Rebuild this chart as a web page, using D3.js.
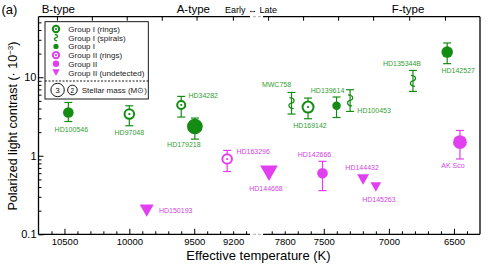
<!DOCTYPE html>
<html>
<head>
<meta charset="utf-8">
<script src="https://cdn.jsdelivr.net/npm/d3@7/dist/d3.min.js"></script>
<style>
  body { margin: 0; background: #fff; }
  text { font-family: "Liberation Sans", Arial, Helvetica, sans-serif; }
</style>
</head>
<body>
<div id="chart"></div>
<script>
// ---- data ----
var stars    = ["HD100546","HD97048","HD34282","HD179218","HD163296","HD150193","HD144668","HD142666",
                "HD144432","HD145263","AK Sco","HD142527","HD135344B","MWC758","HD169142","HD139614","HD100453"];
var kinds    = ["I","Irings","Irings","I","IIrings","IIundet","IIundet","II",
                "IIundet","IIundet","II","I","Ispirals","Ispirals","Irings","I","Ispirals"];
var teff     = [10470, 10000, 9600, 9495, 9246, 9866, 7921, 7510, 7198, 7100, 6454, 6552, 6815, 7748, 7621, 7402, 7298];
var contrast = [3.56, 3.4, 4.43, 2.36, 0.91, 0.2, 0.6, 0.6, 0.5, 0.4, 1.49, 20.9, 9.0, 4.69, 4.17, 4.33, 5.06];
var errLow   = [2.73, 2.41, 3.11, 1.63, 0.63, null, null, 0.36, null, null, 0.91, 14.9, 6.6, 3.4, 2.96, 3.07, 3.67];
var errHigh  = [4.77, 4.33, 5.7, 3.02, 1.17, null, null, 0.85, null, null, 2.1, 27.3, 12.2, 6.4, 5.43, 5.6, 6.93];
var mass     = [2.26, 2.0, 1.6, 3.6, 2.0, 2.3, 3.05, 2.26, 1.9, 1.63, 3.1, 2.5, 2.0, 2.0, 2.37, 1.7, 2.0];

// label offsets from the marker (layout only)
var labelDx = [3, 0, 22, -11, 26, 29, -3, -8, -1, 3, -7, 11, -11, -15, 2, -9, 24];
var labelDy = [19.5, 21, -7, 21, -5, 2.5, 18, -16, -9.5, 15, 26, 21, -15, -16, 21, -13, 12.5];

var legendLabels = ["Group I (rings)","Group I (spirals)","Group I","Group II (rings)","Group II","Group II (undetected)"];
var legendKinds  = ["Irings","Ispirals","I","IIrings","II","IIundet"];

var xMinor      = d3.range(10600, 9050, -100).concat(d3.range(7900, 6300, -100));
var xMajor      = [10500, 10000, 9500, 7500, 7000, 6500];
var xLabelled   = [10500, 10000, 9500, 9200, 7800, 7500, 7000, 6500];
var topTicks    = [10558, 10289, 10020, 9750, 9482, 9202, 7928, 7659, 7390, 7121, 6844, 6569];
var yMajor      = [0.1, 1, 10];
var yMinor      = [0.2,0.3,0.4,0.5,0.6,0.7,0.8,0.9,2,3,4,5,6,7,8,9,20,30,40,50];
var typeLabels  = ["B-type","A-type","Early \u2194 Late","F-type"];

// ---- layout ----
var W = 491, H = 268;
var pLeft = 38.5, pRight = 480, pTop = 16.7, pBottom = 234.3;
var breakL = 250, breakR = 263;

var GREEN = "#148c14", GREEN_T = "#33a033", MAG = "#e23ff0", MAG_T = "#d046e0";

var svg = d3.select("#chart").append("svg").attr("width", W).attr("height", H);

var xL = d3.scaleLinear().domain([10700, 9070]).range([pLeft, breakL]);
var xR = d3.scaleLinear().domain([7967, 6300]).range([breakR, pRight]);
function x(t) { return t > 8500 ? xL(t) : xR(t); }
var y = d3.scaleLog().domain([0.1, 59]).range([pBottom, pTop]);
var rScale = d3.scaleLinear().domain([2, 3]).range([4.8, 6.7]);

function colorOf(k) { return k.indexOf("II") === 0 ? MAG : GREEN; }

// vertical wave, like a rotated tilde
function spiralPath(h) {
  var w = h * 0.75;
  return "M" + (-w*0.5) + "," + (-h) +
    " C" + (w*0.9) + "," + (-h*0.95) + " " + (w*0.9) + "," + (-h*0.1) + " 0,0" +
    " C" + (-w*0.9) + "," + (h*0.1) + " " + (-w*0.9) + "," + (h*0.95) + " " + (w*0.5) + "," + (h);
}

function drawMarker(g, kind, r) {
  var c = colorOf(kind);
  if (kind === "I" || kind === "II") {
    g.append("circle").attr("r", r).attr("fill", c);
  } else if (kind === "Irings" || kind === "IIrings") {
    g.append("circle").attr("r", r).attr("fill", "#fff").attr("stroke", c).attr("stroke-width", 2);
    g.append("circle").attr("r", 1.1).attr("fill", c);
  } else if (kind === "Ispirals") {
    g.append("path").attr("d", spiralPath(r)).attr("fill", "none").attr("stroke", c).attr("stroke-width", 1.3);
  } else {
    var w = r * 1.3, h = w * 0.88;
    g.append("path").attr("d", "M" + (-w) + "," + (-h) + "L" + w + "," + (-h) + "L0," + h + "Z").attr("fill", c);
  }
}

// ---- axes ----
function bottomAxis(scale, vals) {
  var g = svg.append("g").attr("transform", "translate(0," + pBottom + ")")
    .call(d3.axisBottom(scale).tickValues(vals).tickSizeOuter(0).tickSizeInner(0).tickPadding(4)
      .tickFormat(function(d) { return xLabelled.indexOf(d) >= 0 ? d : ""; }));
  g.select(".domain").remove();
  g.selectAll(".tick line").attr("y2", function(d) { return xMajor.indexOf(d) >= 0 ? -5.5 : -3; })
    .attr("stroke", "#000").attr("stroke-width", 1);
  g.selectAll(".tick text").attr("font-size", 9.5).attr("fill", "#000").attr("font-family", "Liberation Sans, Arial, sans-serif");
}
bottomAxis(xL, xMinor.filter(function(d) { return d > 8500; }));
bottomAxis(xR, xMinor.filter(function(d) { return d < 8500; }));

function topAxis(scale, vals) {
  var g = svg.append("g").attr("transform", "translate(0," + pTop + ")")
    .call(d3.axisTop(scale).tickValues(vals).tickSizeOuter(0).tickSize(-4).tickFormat(""));
  g.select(".domain").remove();
  g.selectAll(".tick line").attr("stroke", "#000");
}
topAxis(xL, topTicks.filter(function(d) { return d > 8500; }));
topAxis(xR, topTicks.filter(function(d) { return d < 8500; }));

var ya = svg.append("g").attr("transform", "translate(" + pLeft + ",0)")
  .call(d3.axisLeft(y).tickValues(yMajor).tickSizeOuter(0).tickSizeInner(-5).tickPadding(3)
    .tickFormat(function(d) { return d; }));
ya.select(".domain").remove();
ya.selectAll(".tick text").attr("font-size", 11).attr("fill", "#000").attr("x", -2).attr("font-family", "Liberation Sans, Arial, sans-serif");
ya.selectAll(".tick line").attr("stroke", "#000");
var yb = svg.append("g").attr("transform", "translate(" + pLeft + ",0)")
  .call(d3.axisLeft(y).tickValues(yMinor).tickSizeOuter(0).tickSizeInner(-3).tickFormat(""));
yb.select(".domain").remove();
yb.selectAll(".tick line").attr("stroke", "#000");

// frame with the axis break
var frame = svg.append("g").attr("stroke", "#000").attr("stroke-width", 1.3).attr("fill", "none");
frame.append("line").attr("x1", pLeft).attr("x2", pLeft).attr("y1", pTop).attr("y2", pBottom);
frame.append("line").attr("x1", pRight).attr("x2", pRight).attr("y1", pTop).attr("y2", pBottom);
[pTop, pBottom].forEach(function(yy) {
  frame.append("line").attr("x1", pLeft).attr("x2", breakL).attr("y1", yy).attr("y2", yy);
  frame.append("line").attr("x1", breakR).attr("x2", pRight).attr("y1", yy).attr("y2", yy);
  svg.append("line").attr("x1", breakL + 3).attr("x2", breakR - 2).attr("y1", yy).attr("y2", yy)
    .attr("stroke", "#aaa").attr("stroke-width", 1).attr("stroke-dasharray", "3,2");
});

// ---- error bars ----
var eb = svg.append("g");
stars.forEach(function(s, i) {
  if (errLow[i] == null) return;
  var xx = x(teff[i]), c = colorOf(kinds[i]);
  var g = eb.append("g").attr("stroke", c).attr("stroke-width", 1.2);
  g.append("line").attr("x1", xx).attr("x2", xx).attr("y1", y(errLow[i])).attr("y2", y(errHigh[i]));
  [errLow[i], errHigh[i]].forEach(function(v) {
    g.append("line").attr("x1", xx - 4).attr("x2", xx + 4).attr("y1", y(v)).attr("y2", y(v));
  });
});

// ---- markers and labels ----
stars.forEach(function(s, i) {
  var g = svg.append("g").attr("transform", "translate(" + x(teff[i]) + "," + y(contrast[i]) + ")");
  var r = rScale(mass[i]);
  drawMarker(g, kinds[i], kinds[i] === "Ispirals" ? 5.5 : r);
  svg.append("text").attr("x", x(teff[i]) + labelDx[i]).attr("y", y(contrast[i]) + labelDy[i])
    .attr("text-anchor", "middle").attr("font-size", 7)
    .attr("fill", kinds[i].indexOf("II") === 0 ? MAG_T : GREEN_T).text(s);
});

// ---- legend ----
var lg = svg.append("g");
lg.append("rect").attr("x", 45).attr("y", 21.7).attr("width", 103.3).attr("height", 77.3)
  .attr("fill", "#fff").attr("stroke", "#000").attr("stroke-width", 0.9);
legendLabels.forEach(function(t, i) {
  var yy = 29 + i * 8.7;
  var g = lg.append("g").attr("transform", "translate(56," + yy + ")");
  var k = legendKinds[i];
  drawMarker(g, k, k === "Ispirals" ? 3.2 : (k === "I" ? 2.6 : (k === "IIundet" ? 2.8 : 3.2)));
  lg.append("text").attr("x", 68.3).attr("y", yy + 3).attr("font-size", 8).attr("fill", "#222").text(t);
});
lg.append("line").attr("x1", 45).attr("x2", 148.3).attr("y1", 81).attr("y2", 81)
  .attr("stroke", "#000").attr("stroke-width", 0.9).attr("stroke-dasharray", "2,1.5");
[[3, 57.6], [2, 72.4]].forEach(function(m) {
  lg.append("circle").attr("cx", m[1]).attr("cy", 90).attr("r", rScale(m[0]))
    .attr("fill", "#fff").attr("stroke", "#000").attr("stroke-width", 0.9);
  lg.append("text").attr("x", m[1]).attr("y", 92.6).attr("text-anchor", "middle")
    .attr("font-size", m[0] === 3 ? 7.5 : 6.5).text(m[0]);
});
lg.append("text").attr("x", 81.7).attr("y", 93).attr("font-size", 8).attr("fill", "#222")
  .text("Stellar mass (M\u2299)");

// ---- titles ----
svg.append("text").attr("x", 1.5).attr("y", 14).attr("font-size", 13).text("(a)");
svg.append("text").attr("x", 41.7).attr("y", 13).attr("font-size", 11.5).text(typeLabels[0]);
svg.append("text").attr("x", 176.7).attr("y", 13).attr("font-size", 11.5).text(typeLabels[1]);
svg.append("text").attr("x", 225).attr("y", 13).attr("font-size", 9).text(typeLabels[2]);
svg.append("text").attr("x", 391.7).attr("y", 13).attr("font-size", 11.5).text(typeLabels[3]);

svg.append("text").attr("x", 258.5).attr("y", 260).attr("text-anchor", "middle").attr("font-size", 13)
  .text("Effective temperature (K)");
var yt = svg.append("text").attr("transform", "translate(16.5,126) rotate(-90)")
  .attr("text-anchor", "middle").attr("font-size", 12.5);
yt.append("tspan").text("Polarized light contrast (\u00b7 10");
yt.append("tspan").attr("dy", -4).attr("font-size", 8).text("\u22123");
yt.append("tspan").attr("dy", 4).text(")");
</script>
</body>
</html>
